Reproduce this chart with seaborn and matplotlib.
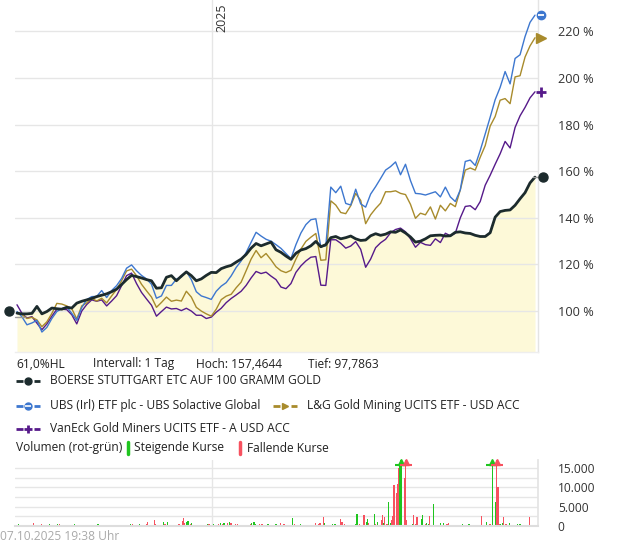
import numpy as np
import pandas as pd
import matplotlib
matplotlib.use("Agg")
import matplotlib.pyplot as plt
import seaborn as sns
from matplotlib.lines import Line2D
import matplotlib.ticker as mticker

# ---------------- data ----------------
start = pd.Timestamp("2024-07-16")
end = pd.Timestamp("2025-10-07")
dates = pd.date_range(start, end, periods=105)

gold_etc = [99.1, 98.8, 98.8, 99.0, 102.0, 98.8, 99.8, 101.3, 101.0, 100.8, 101.6, 101.3, 103.4, 104.2, 104.8,
            105.4, 106.2, 106.8, 107.4, 108.3, 109.4, 111.4, 113.5, 115.3, 114.8, 114.2, 113.5, 113.0, 109.8, 110.0,
            114.5, 115.2, 113.0, 115.0, 116.8, 115.2, 113.0, 113.8, 115.3, 116.6, 116.5, 118.2, 119.0, 119.6, 121.0,
            122.3, 124.3, 127.0, 129.0, 128.0, 128.8, 129.6, 126.3, 125.2, 123.6, 122.2, 124.8, 126.2, 126.8, 128.0,
            129.9, 127.6, 128.5, 131.5, 132.0, 131.0, 131.5, 132.2, 131.0, 130.3, 130.5, 132.3, 133.2, 132.5, 133.0,
            134.0, 133.8, 134.8, 133.5, 131.8, 129.6, 130.0, 131.0, 132.3, 132.5, 132.6, 132.2, 132.3, 133.8, 134.0,
            133.5, 133.3, 132.5, 132.0, 132.0, 133.6, 140.3, 142.7, 143.2, 143.4, 145.4, 148.2, 150.8, 155.0, 157.5]

ubs = [99.8, 97.5, 94.1, 94.9, 96.0, 91.0, 93.0, 96.8, 99.8, 101.1, 101.8, 99.0, 96.0, 101.5, 104.9,
       106.2, 106.3, 108.8, 105.8, 108.8, 110.9, 114.0, 118.4, 119.8, 117.3, 115.3, 113.8, 111.5, 105.5, 106.5,
       111.0, 111.0, 113.7, 114.6, 117.0, 113.5, 108.3, 106.5, 105.8, 105.0, 108.5, 110.7, 112.2, 115.1, 118.7,
       121.5, 125.1, 129.5, 133.8, 132.2, 130.8, 130.0, 128.5, 126.9, 124.7, 122.5, 128.5, 133.5, 137.1, 139.2,
       139.6, 127.6, 128.0, 153.2, 150.8, 153.6, 146.2, 145.5, 152.3, 146.0, 144.6, 150.2, 153.4, 156.9, 160.5,
       162.0, 164.0, 158.5, 163.0, 156.0, 150.5, 150.3, 149.8, 150.5, 151.2, 149.0, 153.2, 149.0, 147.0, 152.0,
       164.2, 164.8, 162.5, 168.9, 176.0, 183.2, 190.7, 196.0, 202.8, 197.5, 208.4, 210.0, 217.8, 223.9, 227.0]

lg = [99.1, 98.5, 96.8, 97.3, 96.2, 93.3, 95.4, 99.0, 103.3, 103.0, 102.2, 101.0, 96.6, 102.2, 103.5,
      105.5, 104.3, 105.5, 103.5, 106.5, 109.3, 113.0, 117.2, 118.0, 115.2, 111.5, 108.7, 106.0, 101.6, 103.7,
      106.0, 104.2, 104.7, 104.3, 108.5, 106.0, 101.6, 100.0, 98.8, 97.8, 100.8, 104.9, 106.4, 107.2, 110.0,
      112.4, 117.3, 122.3, 126.0, 122.9, 124.7, 122.0, 119.0, 117.3, 116.5, 117.5, 122.3, 126.6, 129.9, 131.7,
      133.3, 121.8, 122.0, 147.3, 145.5, 142.3, 141.8, 145.2, 150.5, 147.5, 137.5, 141.3, 144.0, 146.3, 151.2,
      151.2, 151.6, 150.5, 150.0, 145.8, 139.8, 142.0, 141.3, 144.7, 139.5, 145.4, 143.0, 146.2, 144.8, 152.0,
      160.5, 161.4, 160.5, 166.0, 171.0, 179.4, 183.5, 190.5, 191.2, 189.0, 200.5, 201.0, 209.0, 213.8, 217.3]

vaneck = [102.7, 99.0, 97.0, 97.6, 94.8, 92.0, 94.5, 97.8, 100.8, 100.8, 100.6, 98.4, 94.5, 100.0, 102.8,
          104.8, 104.2, 104.8, 102.2, 104.3, 106.6, 110.9, 115.2, 116.3, 111.8, 108.0, 105.2, 102.5, 97.8, 99.8,
          101.7, 100.9, 101.1, 100.2, 101.2, 100.0, 98.2, 98.2, 96.8, 97.4, 99.5, 101.2, 103.6, 105.4, 106.9,
          108.5, 111.0, 114.2, 117.0, 116.1, 116.7, 115.0, 113.5, 110.3, 109.6, 111.8, 116.6, 119.4, 121.5, 123.1,
          123.4, 111.1, 111.0, 130.6, 130.6, 129.1, 127.0, 127.9, 129.8, 126.5, 118.8, 122.3, 127.2, 129.3, 130.8,
          133.6, 135.0, 135.6, 134.0, 131.0, 127.4, 129.5, 128.5, 128.2, 131.0, 129.4, 133.4, 132.3, 133.4, 140.0,
          144.9, 145.2, 143.5, 147.0, 154.0, 158.3, 163.0, 167.5, 172.8, 170.0, 178.8, 183.8, 187.4, 191.5, 194.1]

series_names = ["BOERSE STUTTGART ETC AUF 100 GRAMM GOLD",
                "UBS (Irl) ETF plc - UBS Solactive Global",
                "L&G Gold Mining UCITS ETF - USD ACC",
                "VanEck Gold Miners UCITS ETF - A USD ACC"]

# volume (days after start, volume, 1 = rising / 0 = falling)
vol_day = [1, 7, 14, 16, 18, 21, 23, 28, 29, 35, 37, 38, 46, 50, 56, 59, 62, 65, 70, 72, 74, 76, 78, 83, 86, 88,
           91, 94, 98, 100, 101, 105, 106, 108, 112, 113, 114, 119, 120, 121, 127, 128, 130, 133, 134, 140, 141,
           143, 144, 145, 147, 148, 150, 151, 155, 157, 165, 166, 170, 174, 176, 178, 179, 182, 184, 185, 189,
           191, 196, 199, 202, 203, 205, 206, 210, 212, 217, 220, 224, 225, 228, 231, 235, 238, 240, 245, 248,
           251, 254, 256, 258, 261, 262, 265, 266, 269, 273, 275, 280, 281, 283, 287, 290, 293, 294, 296, 300,
           302, 303, 304, 307, 309, 310, 312, 315, 316, 317, 318, 320, 321, 323, 324, 325, 326, 328, 329, 330,
           331, 332, 335, 336, 337, 338, 342, 343, 345, 346, 350, 351, 353, 354, 356, 357, 358, 360, 363, 366,
           369, 370, 372, 373, 377, 380, 383, 385, 386, 391, 394, 399, 400, 402, 406, 409, 411, 414, 415, 416,
           417, 418, 420, 421, 423, 424, 426, 427, 429, 433, 435, 437, 439, 441, 443, 445]
vol_value = [450, 200, 700, 200, 200, 450, 200, 450, 200, 450, 350, 200, 200, 450, 200, 200, 200, 200, 450, 200,
             200, 200, 200, 200, 200, 200, 200, 200, 450, 450, 200, 200, 450, 200, 450, 1000, 300, 1570, 450, 200,
             1000, 450, 1000, 200, 200, 450, 200, 1300, 2100, 700, 1000, 1100, 500, 700, 200, 200, 450, 450, 350,
             550, 700, 550, 700, 600, 1000, 600, 350, 450, 200, 200, 450, 600, 1000, 450, 450, 450, 450, 200, 350,
             200, 700, 450, 200, 2100, 350, 450, 200, 200, 200, 200, 700, 450, 700, 2350, 700, 200, 450, 450, 1750,
             1050, 450, 200, 200, 450, 3050, 450, 2800, 900, 1750, 700, 200, 3050, 450, 1000, 1500, 2800, 700, 2300,
             450, 6200, 700, 1500, 2550, 10650, 8550, 10900, 15150, 16500, 20000, 12400, 20000, 1500, 200, 450,
             2800, 450, 2300, 1750, 2800, 450, 700, 450, 2550, 200, 5700, 200, 700, 700, 200, 450, 700, 200, 200,
             200, 450, 200, 450, 200, 200, 200, 2550, 1000, 450, 20000, 6200, 20000, 10200, 450, 450, 700, 2300,
             450, 200, 700, 200, 200, 450, 450, 200, 200, 200, 2200, 200]
vol_up = [1, 1, 0, 0, 1, 0, 0, 1, 1, 1, 0, 0, 1, 1, 1, 1, 0, 0, 1, 1, 1, 0, 0, 1, 0, 0, 1, 1, 1, 0, 1, 0, 1, 0,
          0, 0, 1, 0, 0, 1, 1, 0, 1, 1, 1, 0, 1, 0, 0, 0, 1, 1, 0, 1, 0, 0, 1, 0, 1, 0, 1, 0, 1, 0, 1, 0, 0, 0,
          1, 1, 0, 1, 1, 1, 0, 0, 1, 1, 1, 0, 0, 0, 0, 1, 0, 1, 0, 1, 1, 1, 0, 0, 0, 0, 1, 1, 1, 1, 0, 0, 0, 1,
          0, 1, 1, 0, 0, 1, 1, 0, 1, 1, 0, 1, 0, 0, 1, 0, 0, 1, 1, 0, 0, 0, 0, 0, 0, 1, 1, 0, 0, 0, 1, 1, 0, 0,
          0, 1, 1, 0, 1, 1, 0, 1, 1, 1, 1, 1, 0, 0, 0, 1, 1, 1, 1, 0, 1, 0, 1, 1, 0, 1, 0, 1, 1, 0, 0, 0, 1, 1,
          0, 0, 0, 1, 1, 0, 1, 1, 0, 1, 1, 0, 1]

# ---------------- styling ----------------
sns.set_theme(style="white")
plt.rcParams['font.family'] = ['Open Sans', 'DejaVu Sans']

W, H = 620, 543
fig = plt.figure(figsize=(W / 100, H / 100), dpi=100)


def fx(px):
    return px / W


def fy(py):
    return 1 - py / H


C_BLACK = '#1c2b2d'
C_BLUE = '#3d77cf'
C_GOLD = '#a88b2c'
C_PURPLE = '#561a8a'
C_FILL = '#fdf9d8'
C_GRID = '#e6e6e6'
C_GREEN = '#1fc51f'
C_RED = '#f7515f'
FS = 8.64

dpx = (end - start) / 518.0  # time per pixel
xmin = start - 2 * dpx
xmax = end + 2.7 * dpx
y0, y1 = 82.3, 233.5

# ---------------- main chart ----------------
ax = fig.add_axes([fx(15), fy(352.3), fx(537.7) - fx(15), fy(0) - fy(352.3)])
ax.set_xlim(xmin, xmax)
ax.set_ylim(y0, y1)
ax.fill_between(dates, gold_etc, y0, color=C_FILL, lw=0, zorder=0.5)
for v in [100, 120, 140, 160, 180, 200, 220]:
    ax.axhline(v, color=C_GRID, lw=1, zorder=0.8)
ax.axvline(pd.Timestamp("2025-01-01"), color=C_GRID, lw=1, zorder=0.8)

sns.lineplot(x=dates, y=vaneck, ax=ax, color=C_PURPLE, lw=1, zorder=2)
sns.lineplot(x=dates, y=lg, ax=ax, color=C_GOLD, lw=1, zorder=2.1)
sns.lineplot(x=dates, y=ubs, ax=ax, color=C_BLUE, lw=1, zorder=2.2)
sns.lineplot(x=dates, y=gold_etc, ax=ax, color=C_BLACK, lw=2, zorder=3)

# end / start markers
ax.plot([end - 2 * dpx, end + 7 * dpx], [gold_etc[-1]] * 2, color='#9a9a9a', lw=1, clip_on=False, zorder=3)
ax.plot([end + 8 * dpx], [gold_etc[-1]], 'o', color=C_BLACK, ms=6.5, clip_on=False, zorder=4)
ax.plot([start - 2 * dpx, start + 8 * dpx], [97.4, 97.4], color='#9a9a9a', lw=1, clip_on=False, zorder=3)
ax.plot([start - 8.5 * dpx], [100], 'o', color=C_BLACK, ms=6.5, clip_on=False, zorder=4)
mx = end + 6 * dpx
ax.plot([mx], [ubs[-1]], 'o', color=C_BLUE, ms=6, clip_on=False, zorder=4)
ax.plot([mx], [ubs[-1]], '_', color='white', ms=5, mew=1.3, clip_on=False, zorder=5)
ax.plot([mx], [lg[-1]], '>', color=C_GOLD, ms=6.5, clip_on=False, zorder=4)
ax.plot([mx], [vaneck[-1]], '+', color=C_PURPLE, ms=7.5, mew=2, clip_on=False, zorder=4)

ax.yaxis.tick_right()
ax.set_yticks([100, 120, 140, 160, 180, 200, 220])
ax.yaxis.set_major_formatter(mticker.FuncFormatter(lambda v, p: f"{int(v)} %"))
ax.tick_params(axis='y', length=0, pad=14.5, labelsize=9.2, labelcolor='#333333')
ax.set_xticks([])
ax.set_xlabel('')
ax.set_ylabel('')
for s in ['left', 'top']:
    ax.spines[s].set_visible(False)
ax.spines['right'].set_color('#e4e4e4')
ax.spines['bottom'].set_color('#eeeeee')
ax.spines['right'].set_linewidth(1)
ax.spines['bottom'].set_linewidth(1)
ax.grid(False)

fig.text(fx(215.5), fy(3.5), "2025", rotation=90, ha='left', va='top', fontsize=9, color='#333333')

# ---------------- text legend ----------------
tk = dict(fontsize=FS, color='#222222', va='center', ha='left')
fig.text(fx(16.6), fy(364), "61,0%HL", **tk)
fig.text(fx(92.9), fy(364), "Intervall: 1 Tag", **tk)
fig.text(fx(196.5), fy(364), "Hoch: 157,4644", **tk)
fig.text(fx(307.6), fy(364), "Tief: 97,7863", **tk)


def key(x0, ypx, color, marker, ms, mew=1.0, stripe=False):
    for a, b in [(x0, x0 + 7), (x0 + 17.5, x0 + 24)]:
        fig.add_artist(Line2D([fx(a), fx(b)], [fy(ypx)] * 2, color=color, lw=2,
                              solid_capstyle='butt', transform=fig.transFigure))
    fig.add_artist(Line2D([fx(x0 + 12.3)], [fy(ypx)], marker=marker, color=color, ms=ms, mew=mew,
                          lw=0, transform=fig.transFigure))
    if stripe:
        fig.add_artist(Line2D([fx(x0 + 12.3)], [fy(ypx)], marker='_', color='white', ms=4.5, mew=1.2,
                              lw=0, transform=fig.transFigure))


key(16, 381, C_BLACK, 'o', 5)
fig.text(fx(50.2), fy(381), series_names[0], **tk)
key(16, 405.5, C_BLUE, 'o', 5, stripe=True)
fig.text(fx(50.2), fy(405.5), series_names[1], **tk)
key(273, 405.5, C_GOLD, '>', 5)
fig.text(fx(307.2), fy(405.5), series_names[2], **tk)
key(16, 429, C_PURPLE, '+', 6, mew=2)
fig.text(fx(50.2), fy(429), series_names[3], **tk)

fig.text(fx(15.8), fy(448), "Volumen (rot-grün)", **tk)
fig.add_artist(Line2D([fx(127.5)] * 2, [fy(442), fy(454)], color=C_GREEN, lw=2.5, transform=fig.transFigure))
fig.text(fx(134.4), fy(448), "Steigende Kurse", **tk)
fig.add_artist(Line2D([fx(240.2)] * 2, [fy(442), fy(454)], color=C_RED, lw=2.5, transform=fig.transFigure))
fig.text(fx(247.1), fy(448), "Fallende Kurse", **tk)

# ---------------- volume chart ----------------
vmax = 17170
vax = fig.add_axes([fx(15), fy(525.7), fx(537.7) - fx(15), fy(460) - fy(525.7)])
vax.set_xlim(xmin, xmax)
vax.set_ylim(0, vmax)
for v in range(2500, 17500, 2500):
    vax.axhline(v, color=C_GRID, lw=1, zorder=0.5)
vax.axvline(pd.Timestamp("2025-01-01"), color=C_GRID, lw=1, zorder=0.5)

vol_dates = start + pd.to_timedelta(vol_day, unit='D')
vol_df = pd.DataFrame({"date": vol_dates, "vol": vol_value, "up": vol_up})
for up_flag, col in [(1, C_GREEN), (0, C_RED)]:
    sub = vol_df[vol_df.up == up_flag]
    vax.bar(sub.date, np.minimum(sub.vol, vmax), width=1.1, color=col, lw=0, zorder=2)
    clipped = sub[sub.vol > vmax * 0.99]
    vax.plot(clipped.date, [vmax - 480] * len(clipped), '^', color=col, ms=5, clip_on=False, zorder=3)
    vax.plot(clipped.date, [vmax - 1250] * len(clipped), '_', color=col, ms=8, mew=1.5, clip_on=False, zorder=3)

vax.yaxis.tick_right()
vax.set_yticks([0, 5000, 10000, 15000])
vax.yaxis.set_major_formatter(mticker.FuncFormatter(lambda v, p: f"{int(v):,}".replace(",", ".")))
vax.tick_params(axis='y', length=0, pad=14.5, labelsize=FS, labelcolor='#333333')
vax.set_xticks([])
for s in ['left', 'top']:
    vax.spines[s].set_visible(False)
vax.spines['right'].set_color('#e4e4e4')
vax.spines['bottom'].set_color('#dddddd')
vax.spines['bottom'].set_linewidth(1.5)
vax.grid(False)

fig.text(fx(0), fy(537), "07.10.2025 19:38 Uhr", fontsize=FS, color='#aaaaaa', va='center', ha='left')

fig.savefig("out.png", dpi=100)
